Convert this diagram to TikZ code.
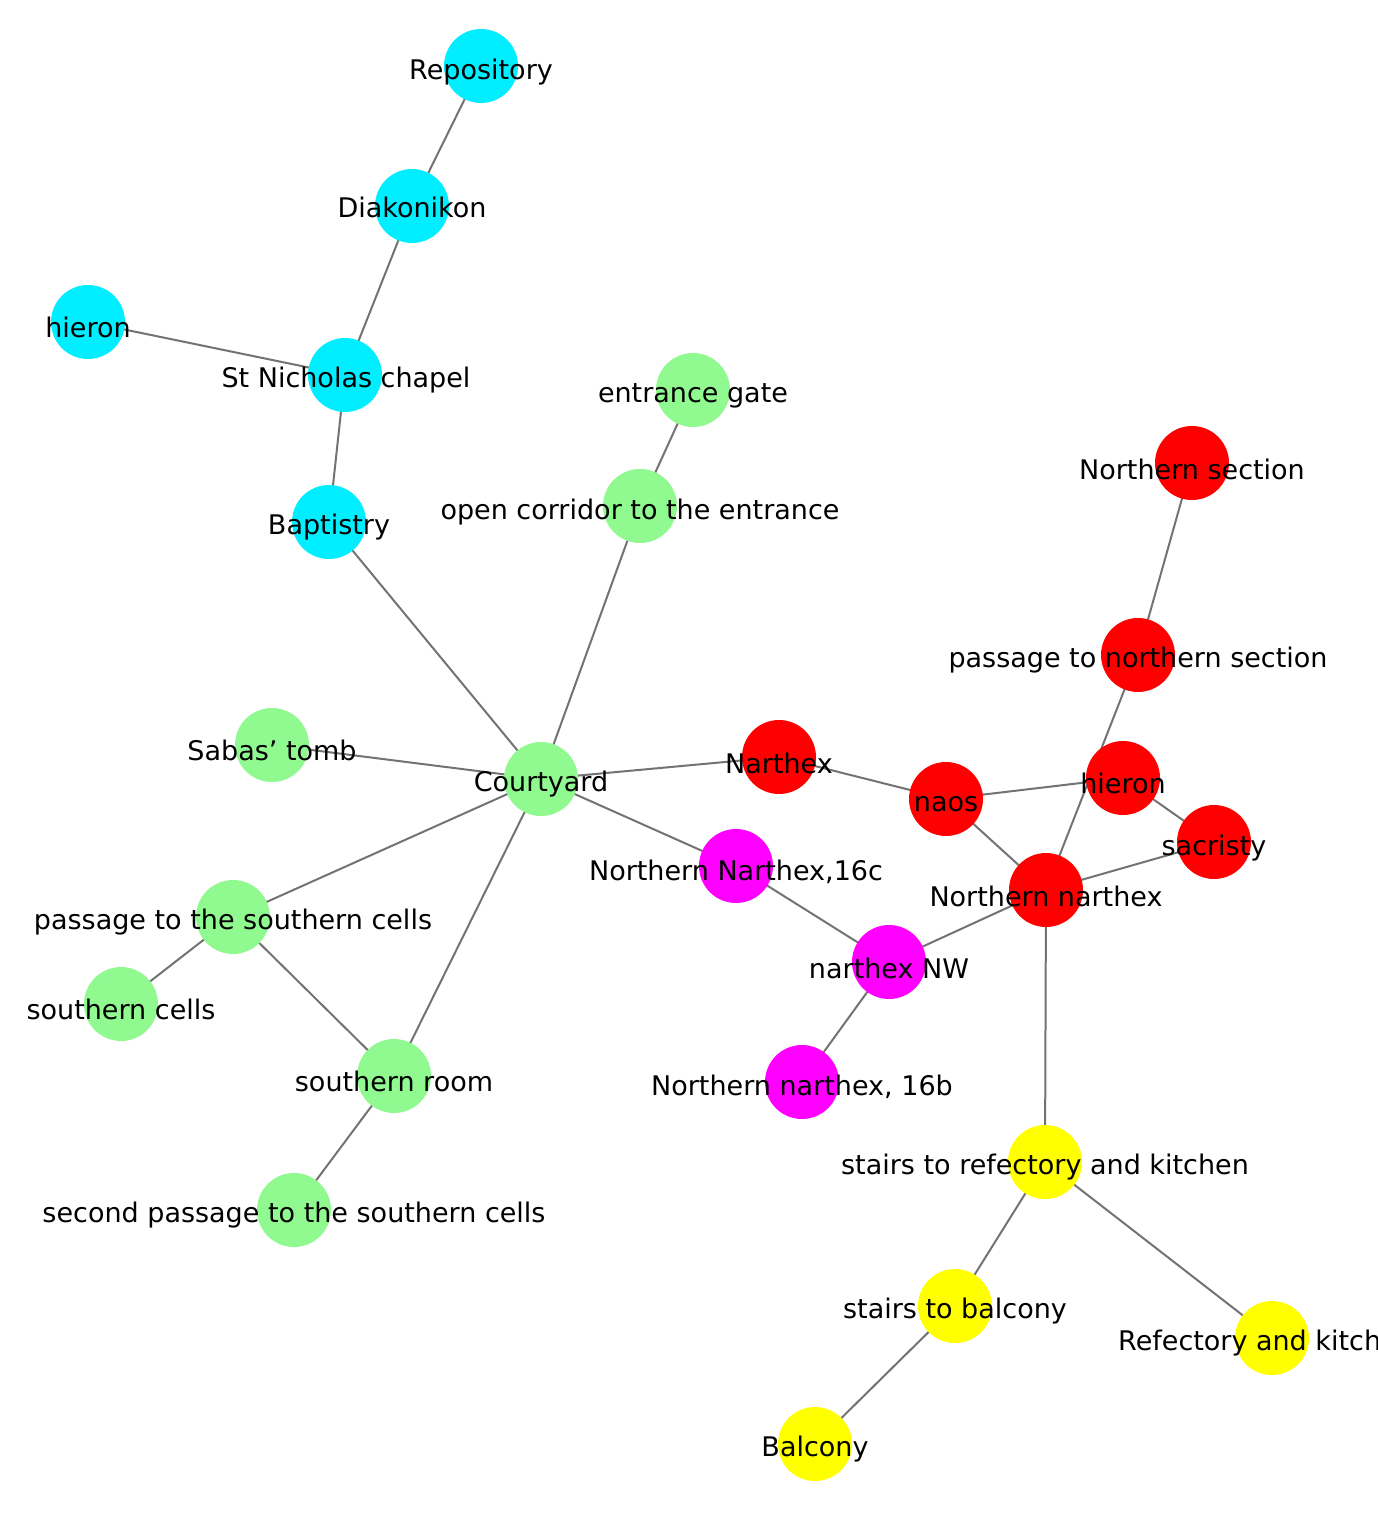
\documentclass[tikz,border=0pt]{standalone}
\usepackage{fontspec}
\setmainfont{DejaVu Sans}
\definecolor{cy}{RGB}{0,238,255}
\definecolor{gr}{RGB}{144,250,144}
\definecolor{rd}{RGB}{255,0,0}
\definecolor{mg}{RGB}{255,0,255}
\definecolor{yl}{RGB}{255,255,0}
\begin{document}
\begin{tikzpicture}[x=1pt,y=-1pt,
  v/.style={circle,minimum size=74pt,inner sep=0pt,draw=none},
  lab/.style={font=\fontsize{27}{27}\selectfont,inner sep=0pt},
  e/.style={draw=black!55,line width=2pt}]
\useasboundingbox (0,0) rectangle (1377,1522);
\clip (0,0) rectangle (1377,1522);
\fill[white] (0,0) rectangle (1377,1522);
\foreach \n/\x/\y in {rep/481/66, dia/412/206, hc/88/322, stn/345/375, bap/329/522,
 ent/693/390, opc/640/506, sab/272/745, cou/541/779, pss/233/917, sc/121/1004, sr/394/1076, sp/294/1210,
 ns/1192/463, pn/1138/655, nar/779/757, naos/946/799, hr/1123/778, sac/1214/842, nn/1046/890,
 n16c/736/866, nw/889/962, n16b/802/1082,
 sref/1045/1162, sbal/955/1306, ref/1272/1338, bal/815/1444}
  \node[v] (\n) at (\x,\y) {};
\foreach \a/\b in {rep/dia, dia/stn, hc/stn, stn/bap, bap/cou, ent/opc, opc/cou, sab/cou, cou/nar, cou/n16c, cou/pss, cou/sr,
 pss/sc, pss/sr, sr/sp, nar/naos, naos/hr, naos/nn, hr/sac, ns/pn, pn/nn, sac/nn, n16c/nw, nw/nn, nw/n16b, nn/sref,
 sref/sbal, sref/ref, sbal/bal}
  \draw[e] (\a.center) -- (\b.center);
\foreach \n/\c in {rep/cy, dia/cy, hc/cy, stn/cy, bap/cy, ent/gr, opc/gr, sab/gr, cou/gr, pss/gr, sc/gr, sr/gr, sp/gr,
 ns/rd, pn/rd, nar/rd, naos/rd, hr/rd, sac/rd, nn/rd, n16c/mg, nw/mg, n16b/mg, sref/yl, sbal/yl, ref/yl, bal/yl}
  \fill[\c] (\n) circle (37);
\node[lab] (l1) at (481,72) {Repository};
\node[lab] (l2) at (412,207) {Diakonikon};
\node[lab] (l3) at (88,327) {hieron};
\node[lab] (l4) at (346,380) {St Nicholas chapel};
\node[lab] (l5) at (329,527) {Baptistry};
\node[lab] (l6) at (693,396) {entrance gate};
\node[lab] (l7) at (640,512) {open corridor to the entrance};
\node[lab] (l8) at (272,750) {Sabas\char"0027\ tomb};
\node[lab] (l9) at (541,784) {Courtyard};
\node[lab] (l10) at (233,922) {passage to the southern cells};
\node[lab] (l11) at (121,1009) {southern cells};
\node[lab] (l12) at (394,1081) {southern room};
\node[lab] (l13) at (294,1215) {second passage to the southern cells};
\node[lab] (l14) at (1192,469) {Northern section};
\node[lab] (l15) at (1138,660) {passage to northern section};
\node[lab] (l16) at (779,763) {Narthex};
\node[lab] (l17) at (946,804) {naos};
\node[lab] (l18) at (1123,783) {hieron};
\node[lab] (l19) at (1214,848) {sacristy};
\node[lab] (l20) at (1046,896) {Northern narthex};
\node[lab] (l21) at (736,872) {Northern Narthex,16c};
\node[lab] (l22) at (889,968) {narthex NW};
\node[lab] (l23) at (802,1087) {Northern narthex, 16b};
\node[lab] (l24) at (1045,1167) {stairs to refectory and kitchen};
\node[lab] (l25) at (955,1311) {stairs to balcony};
\node[lab,anchor=west] (l26) at (1118,1343) {Refectory and kitchen};
\node[lab] (l27) at (815,1449) {Balcony};
\end{tikzpicture}
\end{document}
